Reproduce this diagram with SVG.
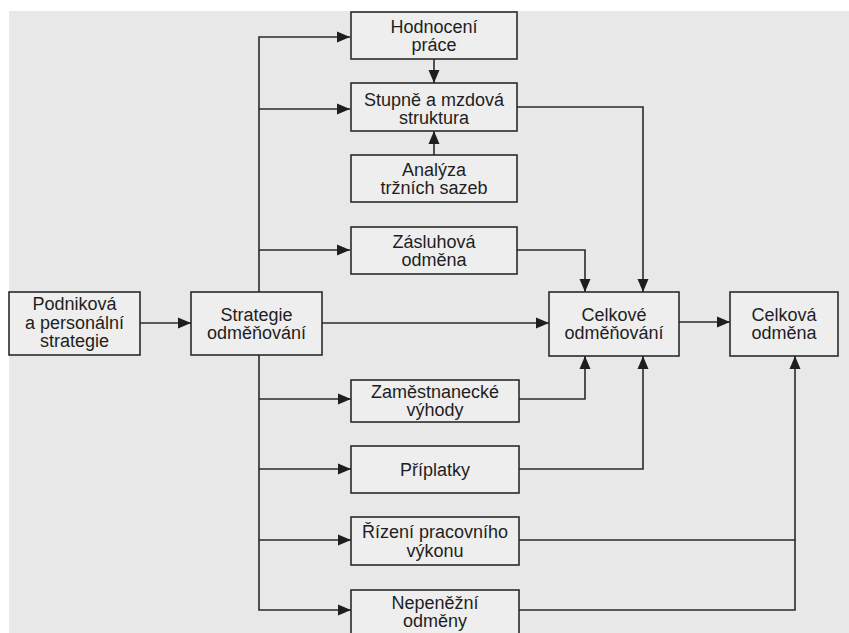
<svg xmlns="http://www.w3.org/2000/svg" width="849" height="633" viewBox="0 0 849 633">
<style>
.bx{fill:#eeeeee;stroke:#2a2a2a;stroke-width:1.6}
.t{font-family:"Liberation Sans",Arial,sans-serif;font-size:18px;fill:#1e1e1e;text-anchor:middle}
.c{fill:none;stroke:#2a2a2a;stroke-width:1.6}
</style>
<defs>
<marker id="ah" markerUnits="userSpaceOnUse" markerWidth="14" markerHeight="12" refX="13" refY="6" orient="auto">
<path d="M0,0.5 L13,6 L0,11.5 Z" fill="#1e1e1e"/>
</marker>
</defs>
<rect x="0" y="0" width="849" height="633" fill="#ffffff"/>
<rect x="9" y="11" width="840" height="622" fill="#e8e8e8"/>
<g id="connectors">
<path class="c" d="M259,292 V37 H350" marker-end="url(#ah)"/>
<path class="c" d="M259,109 H350" marker-end="url(#ah)"/>
<path class="c" d="M259,250 H350" marker-end="url(#ah)"/>
<path class="c" d="M259,355 V610 H351" marker-end="url(#ah)"/>
<path class="c" d="M259,399 H351" marker-end="url(#ah)"/>
<path class="c" d="M259,469 H351" marker-end="url(#ah)"/>
<path class="c" d="M259,540 H351" marker-end="url(#ah)"/>
<path class="c" d="M434,59 V83" marker-end="url(#ah)"/>
<path class="c" d="M434,155 V131" marker-end="url(#ah)"/>
<path class="c" d="M140,323 H191" marker-end="url(#ah)"/>
<path class="c" d="M322,323 H549" marker-end="url(#ah)"/>
<path class="c" d="M517,107 H643 V292" marker-end="url(#ah)"/>
<path class="c" d="M517,250 H585 V292" marker-end="url(#ah)"/>
<path class="c" d="M519,399 H585 V356" marker-end="url(#ah)"/>
<path class="c" d="M519,469 H643 V356" marker-end="url(#ah)"/>
<path class="c" d="M679,322 H730" marker-end="url(#ah)"/>
<path class="c" d="M519,540 H795 V356" marker-end="url(#ah)"/>
<path class="c" d="M519,610 H795 V540"/>
</g>
<g id="hodnoceni"><rect class="bx" x="351" y="12" width="166" height="47"/><text class="t" x="434" y="32.5">Hodnocení</text><text class="t" x="434" y="51">práce</text></g>
<g id="stupne"><rect class="bx" x="351" y="83" width="166" height="48"/><text class="t" x="434" y="105.5">Stupně a mzdová</text><text class="t" x="434" y="124">struktura</text></g>
<g id="analyza"><rect class="bx" x="351" y="155" width="166" height="47"/><text class="t" x="434" y="175.5">Analýza</text><text class="t" x="434" y="194">tržních sazeb</text></g>
<g id="zasluhova"><rect class="bx" x="351" y="227" width="166" height="47"/><text class="t" x="434" y="247.5">Zásluhová</text><text class="t" x="434" y="266">odměna</text></g>
<g id="podnikova"><rect class="bx" x="9" y="292" width="131" height="63"/><text class="t" x="74.5" y="310">Podniková</text><text class="t" x="74.5" y="328.5">a personální</text><text class="t" x="74.5" y="347">strategie</text></g>
<g id="strategie"><rect class="bx" x="191" y="292" width="131" height="63"/><text class="t" x="256.5" y="320.5">Strategie</text><text class="t" x="256.5" y="339">odměňování</text></g>
<g id="celkove-odmenovani"><rect class="bx" x="549" y="292" width="130" height="64"/><text class="t" x="614" y="320.5">Celkové</text><text class="t" x="614" y="339">odměňování</text></g>
<g id="celkova-odmena"><rect class="bx" x="730" y="292" width="108" height="64"/><text class="t" x="784" y="320.5">Celková</text><text class="t" x="784" y="339">odměna</text></g>
<g id="zamestnanecke"><rect class="bx" x="351" y="380" width="168" height="42"/><text class="t" x="435" y="397.5">Zaměstnanecké</text><text class="t" x="435" y="416">výhody</text></g>
<g id="priplatky"><rect class="bx" x="351" y="446" width="168" height="47"/><text class="t" x="435" y="476">Příplatky</text></g>
<g id="rizeni"><rect class="bx" x="351" y="517" width="168" height="48"/><text class="t" x="435" y="538">Řízení pracovního</text><text class="t" x="435" y="556.5">výkonu</text></g>
<g id="nepenezni"><rect class="bx" x="351" y="590" width="168" height="50"/><text class="t" x="435" y="608.5">Nepeněžní</text><text class="t" x="435" y="627">odměny</text></g>
</svg>
